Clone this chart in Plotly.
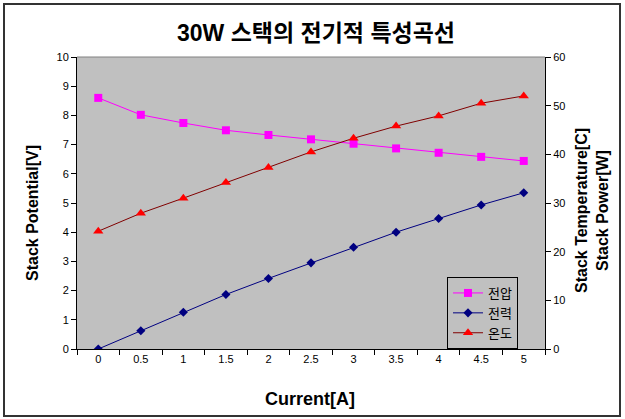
import plotly.graph_objects as go

current = ["0", "0.5", "1", "1.5", "2", "2.5", "3", "3.5", "4", "4.5", "5"]
voltage = [8.6, 8.02, 7.74, 7.49, 7.33, 7.18, 7.03, 6.87, 6.72, 6.58, 6.44]
power = [0, 3.76, 7.54, 11.2, 14.5, 17.7, 20.9, 24.0, 26.8, 29.6, 32.1]
temperature = [24.2, 27.9, 31.0, 34.2, 37.3, 40.5, 43.3, 45.8, 47.9, 50.5, 52.0]

FONT = "Arial, 'Liberation Sans', 'Noto Sans CJK KR', sans-serif"

W, H = 625, 419
L, R, T, B = 77, 80, 57, 70
pw, ph = W - L - R, H - T - B

fig = go.Figure()
fig.add_trace(go.Scatter(x=current, y=voltage, name="전압", mode="lines+markers",
                         line=dict(color="#FF00FF", width=1),
                         marker=dict(symbol="square", size=8, color="#FF00FF")))
fig.add_trace(go.Scatter(x=current, y=power, name="전력", mode="lines+markers", yaxis="y2",
                         line=dict(color="#000080", width=1),
                         marker=dict(symbol="diamond", size=7, color="#000080")))
fig.add_trace(go.Scatter(x=current, y=temperature, name="온도", mode="lines+markers", yaxis="y2",
                         line=dict(color="#800000", width=1),
                         marker=dict(symbol="triangle-up", size=9, color="#FF0000")))

def px_x(p):
    return (p - L) / pw

def px_y(p):
    return (H - B - p) / ph

def label(text, x, y, size, angle=0):
    return dict(text=f"<b>{text}</b>", xref="paper", yref="paper", x=px_x(x), y=px_y(y),
                xanchor="center", yanchor="middle", showarrow=False, textangle=angle,
                font=dict(size=size, family=FONT, color="black"))

fig.update_layout(
    width=W, height=H,
    margin=dict(l=L, r=R, t=T, b=B),
    paper_bgcolor="white", plot_bgcolor="#C0C0C0",
    font=dict(family=FONT, size=11, color="black"),
    title=dict(text="<b>30W 스택의 전기적 특성곡선</b>", x=316 / W, xanchor="center",
               y=1 - 33 / H, yanchor="middle", font=dict(size=23, family=FONT)),
    xaxis=dict(type="category", range=[-0.5, 10.5], tickson="boundaries",
               ticks="outside", ticklen=5, tickcolor="black", showgrid=False,
               showline=True, linecolor="black", linewidth=1, zeroline=False),
    yaxis=dict(range=[0, 10], dtick=1, ticks="outside", ticklen=5, tickcolor="black",
               showgrid=False, showline=True, linecolor="black", linewidth=1, zeroline=False),
    yaxis2=dict(range=[0, 60], dtick=10, overlaying="y", side="right", ticks="outside",
                ticklen=5, tickcolor="black", showgrid=False, showline=True,
                linecolor="black", linewidth=1, zeroline=False),
    legend=dict(x=px_x(447), y=px_y(277), xanchor="left", yanchor="top",
                bgcolor="#C0C0C0", bordercolor="black", borderwidth=1,
                font=dict(size=13), itemwidth=30, tracegroupgap=0),
    showlegend=True,
    annotations=[
        label("Current[A]", 310, 399, 18),
        label("Stack Potential[V]", 32, 213, 16, -90),
        label("Stack Temperature[C]", 581, 211, 16, -90),
        label("Stack Power[W]", 602, 211, 16, -90),
    ],
    shapes=[
        dict(type="line", xref="paper", yref="paper", x0=0, x1=1, y0=1, y1=1,
             line=dict(color="#808080", width=1), layer="above"),
        dict(type="rect", xref="paper", yref="paper",
             x0=px_x(4), x1=px_x(620), y0=px_y(416), y1=px_y(4),
             line=dict(color="#333333", width=2), fillcolor="rgba(0,0,0,0)"),
    ],
)

fig.write_html("out.html", config={"displayModeBar": False},
               post_script="document.body.style.margin='0';")
